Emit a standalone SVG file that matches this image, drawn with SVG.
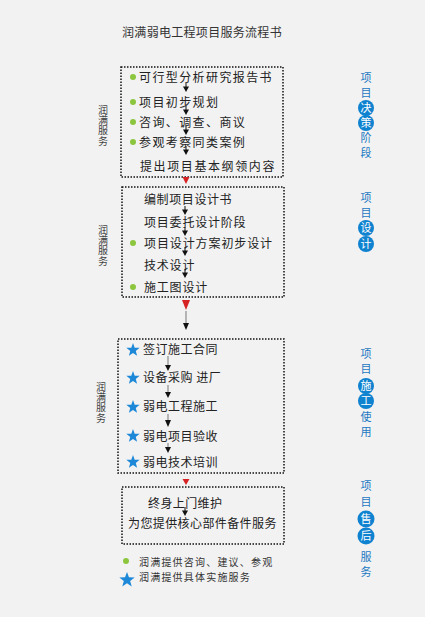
<svg xmlns="http://www.w3.org/2000/svg" width="425" height="617" viewBox="0 0 425 617">
<style>
.bg{fill:#f2f2f2}
.t{font-family:"Noto Sans CJK SC","Liberation Sans",sans-serif;fill:#222}
.title{font-size:12px;fill:#333;letter-spacing:0.3px}
.item{font-size:12px}
.leg{font-size:10px;letter-spacing:1.2px;fill:#333}
.side{font-size:10px;fill:#444;writing-mode:vertical-rl;letter-spacing:0.3px}
.rl{font-family:"Noto Sans CJK SC","Liberation Sans",sans-serif;font-size:11px;fill:#1a78c2;text-anchor:middle}
.rw{font-family:"Noto Sans CJK SC","Liberation Sans",sans-serif;font-size:11px;fill:#fff;text-anchor:middle}
.circ{fill:#0f82d0}
.box{fill:none;stroke:#111;stroke-width:1.5;stroke-dasharray:1.5 1.5}
.dot{fill:#8cc63f}
.star{fill:#1e88d8}
.red{fill:#d62222}
.stem{stroke:#777;stroke-width:1;fill:none}
.head{fill:#111}
</style>
<defs>
<path id="star" d="M0,-7 L1.70,-2.35 L6.66,-2.16 L2.76,0.90 L4.11,5.66 L0,2.9 L-4.11,5.66 L-2.76,0.90 L-6.66,-2.16 L-1.70,-2.35 Z"/>
<g id="arr"><line x1="0" y1="-6" x2="0" y2="-2" stroke="#111" stroke-width="1"/><path d="M-3,-2.5 L3,-2.5 L0,3 Z"/></g>
</defs>
<rect class="bg" x="0" y="0" width="425" height="617"/>
<text class="t title" x="202" y="37" text-anchor="middle">润满弱电工程项目服务流程书</text>

<g id="box1">
<rect class="box" x="121" y="67" width="162" height="110"/>
<circle class="dot" cx="133" cy="77" r="3"/>
<text class="t item" x="139" y="82" letter-spacing="1.4">可行型分析研究报告书</text>
<circle class="dot" cx="133" cy="102" r="3"/>
<text class="t item" x="139" y="106.5" letter-spacing="1.4">项目初步规划</text>
<circle class="dot" cx="133" cy="122" r="3"/>
<text class="t item" x="139" y="126.5" letter-spacing="1.4">咨询、调查、商议</text>
<circle class="dot" cx="133" cy="142" r="3"/>
<text class="t item" x="139" y="146.5" letter-spacing="1.4">参观考察同类案例</text>
<text class="t item" x="140" y="170.5" letter-spacing="1.6">提出项目基本纲领内容</text>
<g class="head"><use href="#arr" x="186" y="89"/><use href="#arr" x="186" y="112"/><use href="#arr" x="186" y="132"/><use href="#arr" x="186" y="152"/></g>
</g>

<g id="box2">
<rect class="box" x="122" y="187" width="162" height="110"/>
<text class="t item" x="144" y="203.5" letter-spacing="0.6">编制项目设计书</text>
<text class="t item" x="144" y="226.5" letter-spacing="0.8">项目委托设计阶段</text>
<circle class="dot" cx="133" cy="243" r="3"/>
<text class="t item" x="144" y="247.5" letter-spacing="0.9">项目设计方案初步设计</text>
<text class="t item" x="144" y="269.5" letter-spacing="0.8">技术设计</text>
<circle class="dot" cx="133" cy="287" r="3"/>
<text class="t item" x="144" y="291.5" letter-spacing="0.8">施工图设计</text>
<g class="head"><use href="#arr" x="185" y="212"/><use href="#arr" x="185" y="233"/><use href="#arr" x="185" y="253"/><use href="#arr" x="185" y="275"/></g>
</g>

<g id="box3">
<rect class="box" x="118" y="339" width="166" height="134"/>
<use class="star" href="#star" x="133" y="350"/>
<text class="t item" x="143" y="353.5" letter-spacing="0.5">签订施工合同</text>
<use class="star" href="#star" x="133" y="378"/>
<text class="t item" x="143" y="381.5" letter-spacing="0.5">设备采购 进厂</text>
<use class="star" href="#star" x="133" y="407"/>
<text class="t item" x="143" y="410.5" letter-spacing="0.5">弱电工程施工</text>
<use class="star" href="#star" x="133" y="436"/>
<text class="t item" x="143" y="440.5" letter-spacing="0.5">弱电项目验收</text>
<use class="star" href="#star" x="133" y="462"/>
<text class="t item" x="143" y="466.5" letter-spacing="0.5">弱电技术培训</text>
</g>

<g id="box4">
<rect class="box" x="122" y="487" width="162" height="57"/>
<text class="t item" x="148" y="507.5" letter-spacing="0.4">终身上门维护</text>
<text class="t item" x="128" y="527.5" letter-spacing="0.4">为您提供核心部件备件服务</text>
<use class="head" href="#arr" x="185" y="513"/>
</g>

<g id="connectors">
<path class="red" d="M182.5,177 L189.5,177 L186,184 Z"/>
<path class="red" d="M182,300 L190,300 L186,310 Z"/>
<line class="stem" x1="186" y1="311" x2="186" y2="324"/>
<path class="head" d="M183,323 L189,323 L186,330 Z"/>
<line class="stem" x1="168" y1="356" x2="168" y2="366"/>
<path class="head" d="M165,365 L171,365 L168,371 Z"/>
<line class="stem" x1="168" y1="385" x2="168" y2="393"/>
<path class="head" d="M165,392 L171,392 L168,398 Z"/>
<line class="stem" x1="168" y1="414" x2="168" y2="421"/>
<path class="head" d="M165,420 L171,420 L168,427 Z"/>
<line class="stem" x1="168" y1="443" x2="168" y2="448"/>
<path class="head" d="M165,447 L171,447 L168,453 Z"/>
<path class="red" d="M182.5,479 L189.5,479 L186,485 Z"/>
</g>

<g id="side-labels">
<text class="t side" x="103" y="105">润满服务</text>
<text class="t side" x="103" y="225">润满服务</text>
<text class="t side" x="101" y="382">润满服务</text>
</g>

<g id="stage1">
<text class="rl" x="366" y="82">项</text><text class="rl" x="366" y="97">目</text>
<circle class="circ" cx="366" cy="108" r="8"/><text class="rw" x="366" y="112">决</text>
<circle class="circ" cx="366" cy="123" r="8"/><text class="rw" x="366" y="127">策</text>
<text class="rl" x="366" y="142">阶</text><text class="rl" x="366" y="157">段</text>
</g>
<g id="stage2">
<text class="rl" x="366" y="202">项</text><text class="rl" x="366" y="217">目</text>
<circle class="circ" cx="366" cy="228" r="8"/><text class="rw" x="366" y="232">设</text>
<circle class="circ" cx="366" cy="244" r="8"/><text class="rw" x="366" y="248">计</text>
</g>
<g id="stage3">
<text class="rl" x="366" y="358">项</text><text class="rl" x="366" y="373">目</text>
<circle class="circ" cx="366" cy="386" r="8"/><text class="rw" x="366" y="390">施</text>
<circle class="circ" cx="366" cy="401" r="8"/><text class="rw" x="366" y="405">工</text>
<text class="rl" x="366" y="421">使</text><text class="rl" x="366" y="436">用</text>
</g>
<g id="stage4">
<text class="rl" x="366" y="490">项</text><text class="rl" x="366" y="506">目</text>
<circle class="circ" cx="366" cy="519" r="8.5"/><text class="rw" x="366" y="523">售</text>
<circle class="circ" cx="366" cy="536" r="8.5"/><text class="rw" x="366" y="540">后</text>
<text class="rl" x="366" y="561">服</text><text class="rl" x="366" y="576">务</text>
</g>

<g id="legend">
<circle class="dot" cx="126" cy="561" r="3"/>
<text class="t leg" x="139" y="566">润满提供咨询、建议、参观</text>
<use class="star" href="#star" transform="translate(127,580) scale(1.15)"/>
<text class="t leg" x="139" y="581">润满提供具体实施服务</text>
</g>
</svg>
